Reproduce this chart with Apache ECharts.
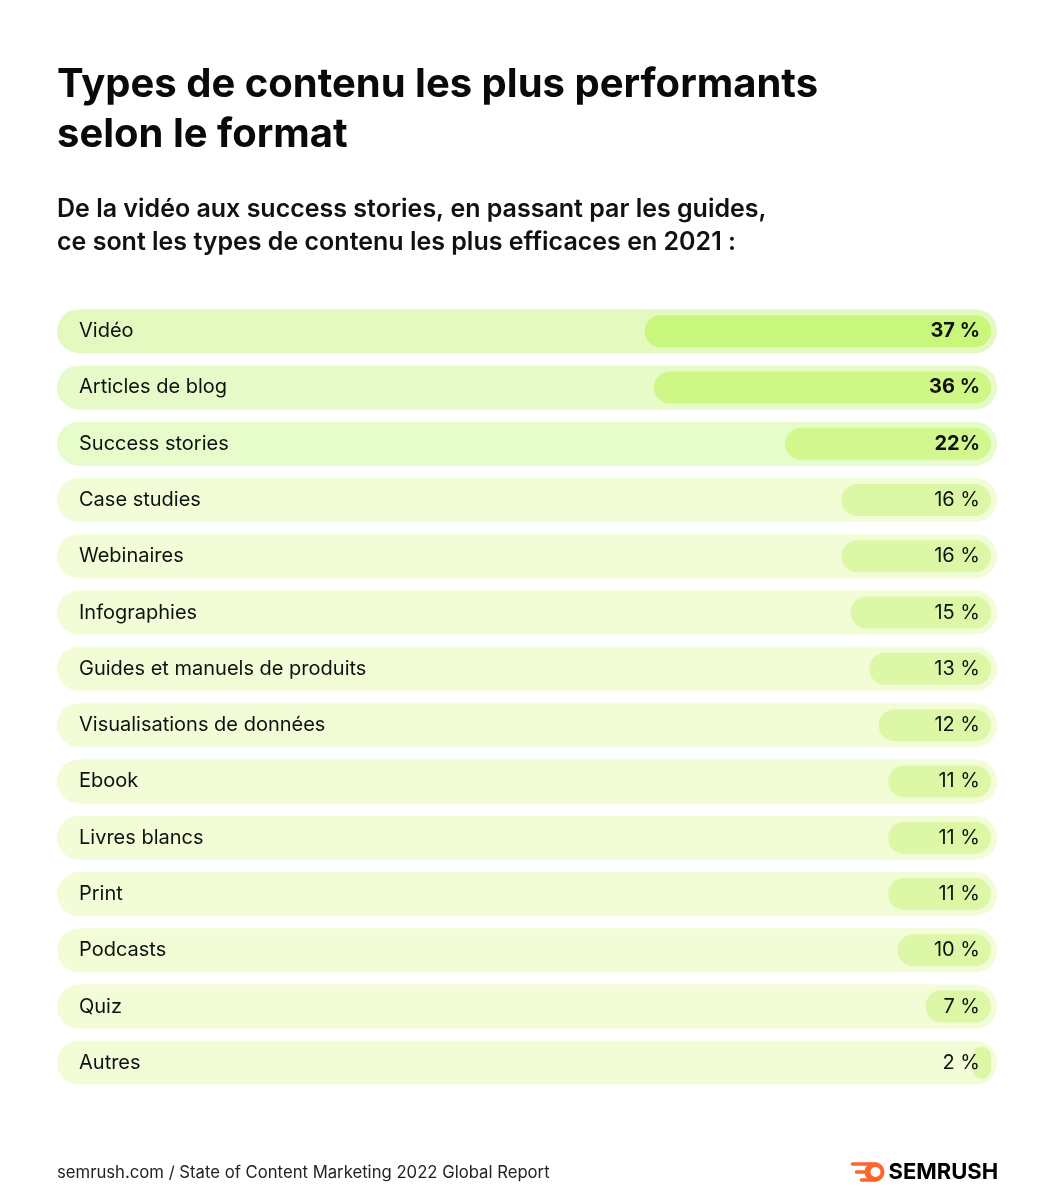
<!DOCTYPE html>
<html>
<head>
<meta charset="utf-8">
<title>Types de contenu les plus performants selon le format</title>
<style>
  html, body { margin: 0; padding: 0; background: #ffffff; }
  #chart { width: 1054px; height: 1200px; }
</style>
</head>
<body>
<div id="chart"></div>
<script src="https://cdn.jsdelivr.net/npm/echarts@6/dist/echarts.min.js"></script>
<script>
  // données
  var categories = ['Vidéo', 'Articles de blog', 'Success stories', 'Case studies', 'Webinaires',
    'Infographies', 'Guides et manuels de produits', 'Visualisations de données', 'Ebook',
    'Livres blancs', 'Print', 'Podcasts', 'Quiz', 'Autres'];
  var values = [37, 36, 22, 16, 16, 15, 13, 12, 11, 11, 11, 10, 7, 2];
  var valueLabels = ['37 %', '36 %', '22%', '16 %', '16 %', '15 %', '13 %', '12 %', '11 %',
    '11 %', '11 %', '10 %', '7 %', '2 %'];
  var highlighted = [true, true, true, false, false, false, false, false, false, false, false, false, false, false];

  var FONT = 'Inter, "Noto Sans", sans-serif';
  var bgColors = ['#e3f9bf', '#e6fbc8', '#e7fccb'];
  var barColors = ['#c9f77c', '#cff786', '#d2f78e'];

  var myChart = echarts.init(document.getElementById('chart'));

  var barData = values.map(function (v, i) {
    return {
      value: v,
      itemStyle: { color: highlighted[i] ? barColors[i] : '#dcf8a6' },
      label: {
        formatter: valueLabels[i],
        fontWeight: highlighted[i] ? 'bold' : 'normal'
      }
    };
  });

  var option = {
    backgroundColor: '#ffffff',
    animation: false,
    title: [{
      text: 'Types de contenu les plus performants\nselon le format',
      left: 52,
      top: 55,
      textStyle: { fontFamily: FONT, fontSize: 40, fontWeight: 'bold', color: '#0a0a0a', lineHeight: 50 }
    }, {
      text: 'De la vidéo aux success stories, en passant par les guides,\nce sont les types de contenu les plus efficaces en 2021 :',
      left: 52,
      top: 188,
      textStyle: { fontFamily: FONT, fontSize: 25, fontWeight: 600, color: '#111111', lineHeight: 33 }
    }, {
      text: 'semrush.com / State of Content Marketing 2022 Global Report',
      left: 52,
      top: 1159,
      textStyle: { fontFamily: FONT, fontSize: 16.7, fontWeight: 'normal', color: '#222222' }
    }],
    graphic: [{
      type: 'group',
      left: 850,
      top: 1161,
      children: [
        { type: 'line', shape: { x1: 1, y1: 3, x2: 20, y2: 3 }, style: { stroke: '#ff642d', lineWidth: 3.5, lineCap: 'round' } },
        { type: 'line', shape: { x1: 5, y1: 11, x2: 20, y2: 11 }, style: { stroke: '#ff642d', lineWidth: 3.5, lineCap: 'round' } },
        { type: 'line', shape: { x1: 10, y1: 19, x2: 20, y2: 19 }, style: { stroke: '#ff642d', lineWidth: 3.5, lineCap: 'round' } },
        { type: 'circle', shape: { cx: 23, cy: 11, r: 10 }, style: { fill: '#ff642d' } },
        { type: 'circle', shape: { cx: 24, cy: 11, r: 5 }, style: { fill: '#ffffff' } },
        {
          type: 'text', left: 37, top: 0,
          style: { text: 'SEMRUSH', fill: '#000000', font: 'bold 22px ' + FONT }
        }
      ]
    }],
    grid: { left: 55, right: 63, top: 303, bottom: 109, containLabel: false },
    xAxis: {
      type: 'value',
      min: 0,
      max: 100,
      inverse: true,
      show: false
    },
    yAxis: {
      type: 'category',
      data: categories,
      inverse: true,
      position: 'left',
      axisLine: { show: false, onZero: false },
      axisTick: { show: false },
      axisLabel: {
        inside: true,
        margin: 24,
        fontFamily: FONT,
        fontSize: 20,
        color: '#111111'
      },
      z: 10
    },
    series: [{
      // fond arrondi de chaque ligne
      type: 'custom',
      silent: true,
      z: 1,
      data: values.map(function (v, i) { return [0, i]; }),
      encode: { x: 0, y: 1 },
      renderItem: function (params, api) {
        var i = api.value(1);
        var right = api.coord([0, i]);
        var left = api.coord([100, i]);
        var h = 44;
        return {
          type: 'rect',
          shape: { x: left[0] + 2, y: right[1] - h / 2, width: right[0] - left[0] + 4, height: h, r: h / 2 },
          style: { fill: i < 3 ? bgColors[i] : '#f2fcd6' }
        };
      }
    }, {
      type: 'bar',
      z: 2,
      barWidth: 32,
      data: barData,
      itemStyle: { borderRadius: 16 },
      label: {
        show: true,
        position: 'insideRight',
        distance: 11,
        fontFamily: FONT,
        fontSize: 20,
        color: '#111111'
      }
    }]
  };
  myChart.setOption(option);
</script>
</body>
</html>
